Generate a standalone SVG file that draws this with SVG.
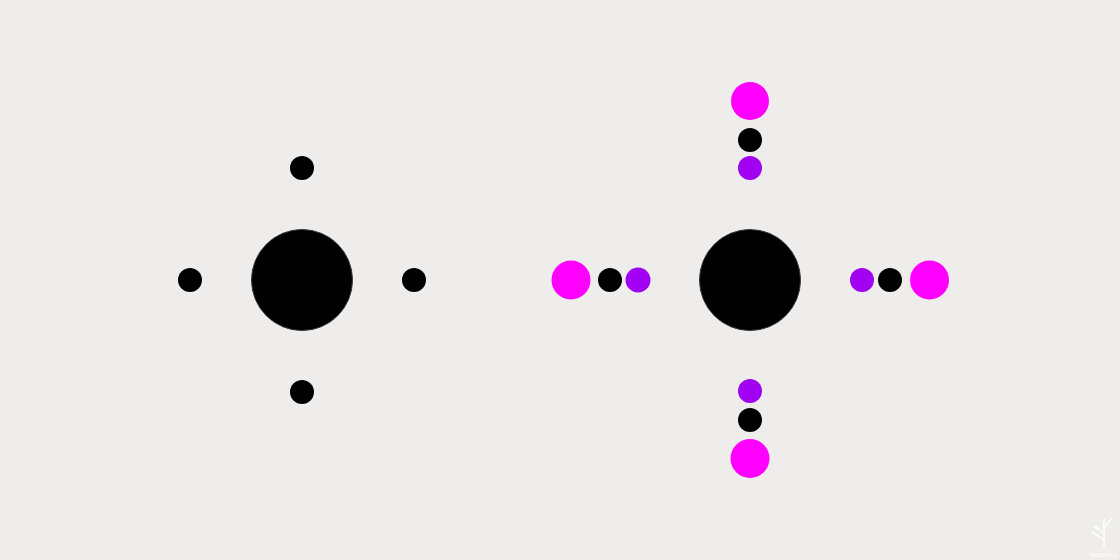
<svg xmlns="http://www.w3.org/2000/svg" width="1120" height="560" viewBox="0 0 1120 560">
  <defs>
    <style>
      .core { fill: #000; stroke: #3a3a3a; stroke-width: 1; }
      .blk { fill: #000; }
      .mag { fill: #ff00ff; }
      .pur { fill: #a100f2; }
      .logo { stroke: #ffffff; stroke-width: 1.6; fill: none; opacity: 0.85; }
      .logotxt { font-family: "Liberation Sans", Arial, sans-serif; font-size: 6px; font-weight: bold; fill: #ffffff; opacity: 0.85; }
    </style>
    <filter id="soft" x="-20%" y="-20%" width="140%" height="140%">
      <feGaussianBlur stdDeviation="0.7"/>
    </filter>
  </defs>
  <rect width="1120" height="560" fill="#eeedeb"/>

  <g id="left-atom" filter="url(#soft)">
    <circle class="core" cx="302" cy="280" r="50.5"/>
    <circle class="blk" cx="302" cy="168" r="12"/>
    <circle class="blk" cx="190" cy="280" r="12"/>
    <circle class="blk" cx="414" cy="280" r="12"/>
    <circle class="blk" cx="302" cy="392" r="12"/>
  </g>

  <g id="right-atom" filter="url(#soft)">
    <circle class="core" cx="750" cy="280" r="50.5"/>
  </g>
  <g id="top-group" filter="url(#soft)">
    <circle class="mag" cx="750" cy="101" r="19"/>
    <circle class="blk" cx="750" cy="140" r="12"/>
    <circle class="pur" cx="750" cy="168" r="12"/>
  </g>
  <g id="left-group" filter="url(#soft)">
    <circle class="mag" cx="571" cy="280" r="19.5"/>
    <circle class="blk" cx="610" cy="280" r="12"/>
    <circle class="pur" cx="638" cy="280" r="12.5"/>
  </g>
  <g id="right-group" filter="url(#soft)">
    <circle class="pur" cx="862" cy="280" r="12"/>
    <circle class="blk" cx="890" cy="280" r="12"/>
    <circle class="mag" cx="929.5" cy="280" r="19.5"/>
  </g>
  <g id="bottom-group" filter="url(#soft)">
    <circle class="pur" cx="750" cy="391" r="12"/>
    <circle class="blk" cx="750" cy="420" r="12"/>
    <circle class="mag" cx="750" cy="458.5" r="19.5"/>
  </g>

  <g id="logo">
    <path class="logo" d="M1104 548 V518 M1104 534 L1096 526 M1104 528 L1112 518 M1104 540 L1092 532 M1098 530 L1094 526"/>
    <text class="logotxt" x="1104" y="557" text-anchor="middle">ONEFALL</text>
  </g>
</svg>
